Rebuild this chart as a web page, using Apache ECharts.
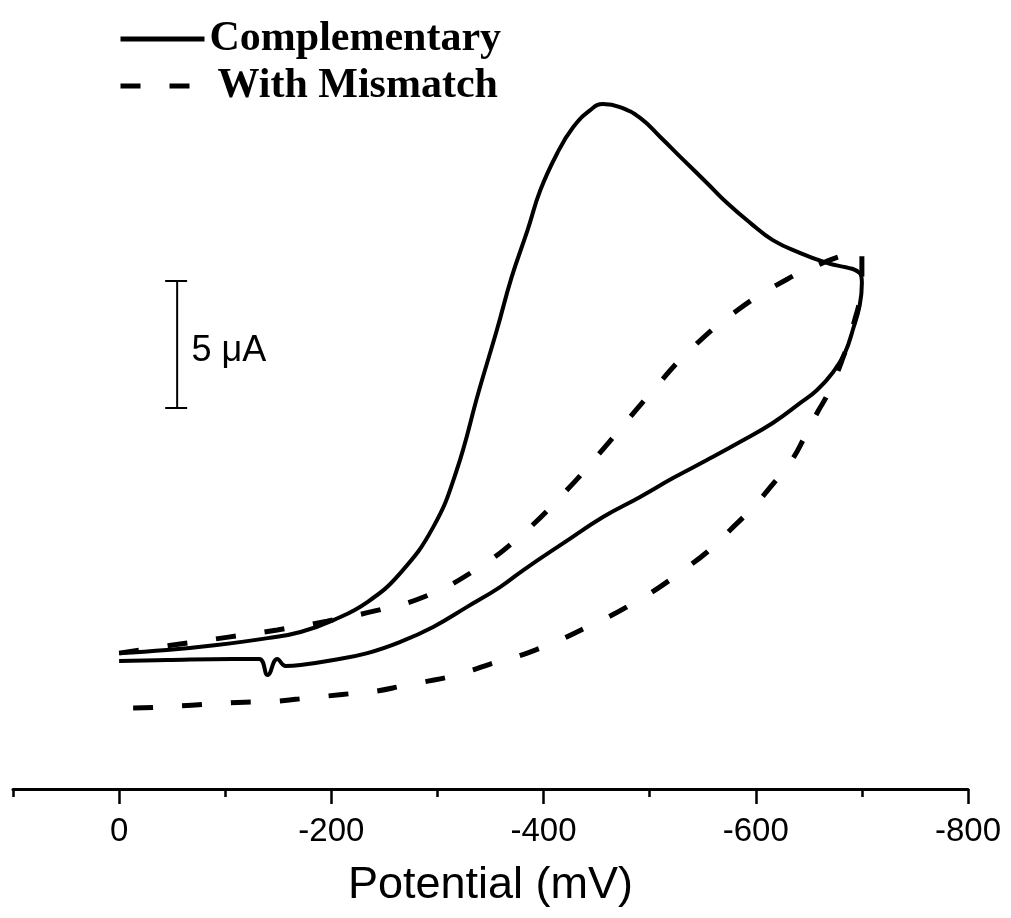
<!DOCTYPE html>
<html>
<head>
<meta charset="utf-8">
<script src="https://cdn.jsdelivr.net/npm/echarts@6/dist/echarts.min.js"></script>
<style>
html,body{margin:0;padding:0;background:#fff;}
#chart{width:1011px;height:918px;}
</style>
</head>
<body>
<div id="chart"></div>
<script>
// ---- Data (Potential in mV, current in µA, arbitrary baseline) ----
const compX = [0,-45,-92,-140,-171,-202,-234,-265,-296,-317.6,-339.3,-356,-370,-385,-397,-413,-428,-444,-456,-472,-491,-510,-532,-554,-573,-595,-616,-642,-667,-698,
  -700,
  -698,-692,-684,-673,-657.8,-642,-616,-585,-554,-522,-491,-456,-419,-381,-359,-328,-296,-265,-234,-202,-171,-157,-149,-140,-132,-107,-45,0];
const compY = [5.35,5.47,5.67,5.94,6.18,6.65,7.36,8.50,10.31,12.48,15.71,18.07,20.16,22.01,23.58,25.04,26.06,26.73,26.97,26.85,26.42,25.67,24.76,23.86,23.07,22.28,21.61,21.10,20.71,20.31,
  19.92,
  19.06,18.15,17.17,16.42,15.71,15.20,14.41,13.66,12.95,12.24,11.50,10.71,9.69,8.62,7.95,7.17,6.38,5.79,5.35,5.08,4.88,4.84,5.12,4.49,5.12,5.12,5.08,5.04];

const misX = [0,-57.5,-103,-149,-196,-241,-287,-334,-378,-422,-461,-501,-538,-583,-630,-661,-684,-700,
  -700,-700,-697.5,-693.7,-688,-681.4,-673.9,-666.4,-658.8,-646.6,-633.4,-615.5,-596.6,-575.9,-554.2,-531.6,-508,-486.3,-462.8,-439.2,-415.6,-392.1,-370.4,-349.7,-333.6,-314.8,-286.5,-267.7,-243.2,-224.3,-196,-177.2,-148.9,-130.1,-101.8,-57.5,-10.4,0];
const misY = [5.35,5.71,5.98,6.26,6.61,7.01,7.56,8.58,9.96,11.77,13.62,15.59,17.28,18.86,20.08,20.67,21.02,21.14,
  20.75,19.96,19.13,18.54,17.68,16.89,16.10,15.43,14.88,13.90,12.91,11.97,11.06,10.20,9.33,8.62,7.91,7.36,6.81,6.34,5.87,5.47,5.16,4.92,4.69,4.45,4.21,4.06,3.86,3.78,3.66,3.58,3.46,3.43,3.39,3.27,3.19,3.19];

const majorTicks = [0,-200,-400,-600,-800];
const minorTicks = [100,-100,-300,-500,-700];
const seriesNames = ['Complementary','With Mismatch'];
const scaleBarX = -54.7;          // mV
const scaleBarCap = [-43.4,-64.1]; // mV
const scaleBarY = [15,20];        // µA (5 µA)
const scaleBarText = '5 \u03bcA';
const xTitle = 'Potential (mV)';

const zip = (a,b) => a.map((v,i)=>[v,b[i]]);

const chart = echarts.init(document.getElementById('chart'), null, {renderer:'canvas'});
const axisFont = '"Liberation Sans", Arial, sans-serif';
const legendText = {fontFamily:'"Liberation Serif", "Times New Roman", serif', fontWeight:'bold', fontSize:42, color:'#000'};
const legendCommon = {orient:'horizontal', left:118, itemHeight:14, selectedMode:false, textStyle:legendText, padding:0,
  itemStyle:{opacity:0}, lineStyle:{width:5}};

chart.setOption({
  animation:false,
  backgroundColor:'#fff',
  grid:{left:13, right:43, top:27, bottom:129, containLabel:false},
  legend:[
    Object.assign({}, legendCommon, {data:[seriesNames[0]], top:18, itemWidth:84}),
    Object.assign({}, legendCommon, {data:[seriesNames[1]], top:65, itemWidth:92})
  ],
  xAxis:[
    {type:'value', position:'bottom', min:-800, max:100, interval:100, inverse:true,
     axisLine:{show:true, onZero:false, lineStyle:{color:'#000', width:3}},
     axisTick:{show:true, customValues:majorTicks, length:15, lineStyle:{color:'#000', width:2.5}},
     axisLabel:{show:true, customValues:majorTicks, margin:26, color:'#000', fontSize:33, fontFamily:axisFont},
     splitLine:{show:false},
     name:xTitle, nameLocation:'middle', nameGap:74,
     nameTextStyle:{color:'#000', fontSize:45, fontFamily:axisFont}},
    {type:'value', position:'bottom', min:-800, max:100, interval:100, inverse:true,
     axisLine:{show:false},
     axisTick:{show:true, customValues:minorTicks, length:8, lineStyle:{color:'#000', width:2.5}},
     axisLabel:{show:false}, splitLine:{show:false}}
  ],
  yAxis:{type:'value', min:0, max:30, show:false, splitLine:{show:false}},
  series:[
    {name:seriesNames[0], type:'line', data:zip(compX,compY), symbol:'none', smooth:0.45,
     lineStyle:{color:'#000', width:4}, itemStyle:{color:'#000'}},
    {name:seriesNames[1], type:'line', data:zip(misX,misY), symbol:'none', smooth:0.45,
     lineStyle:{color:'#000', width:5, type:[20,29]}, itemStyle:{color:'#000'}},
    {name:'scalebar', type:'line', symbol:'none', silent:true,
     data:[[scaleBarCap[1],scaleBarY[1]],[scaleBarCap[0],scaleBarY[1]],[scaleBarX,scaleBarY[1]],[scaleBarX,scaleBarY[0]],[scaleBarCap[0],scaleBarY[0]],[scaleBarCap[1],scaleBarY[0]]],
     lineStyle:{color:'#000', width:2}},
    {name:'scalebarLabel', type:'scatter', silent:true, symbolSize:1, itemStyle:{color:'rgba(0,0,0,0)', opacity:1},
     data:[[scaleBarX-13, (scaleBarY[0]+scaleBarY[1])/2 - 0.25]],
     label:{show:true, position:'right', distance:0, formatter:scaleBarText, color:'#000', fontSize:36, fontFamily:axisFont}}
  ]
});
</script>
</body>
</html>
